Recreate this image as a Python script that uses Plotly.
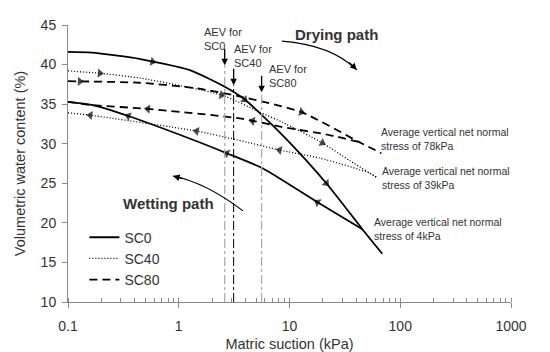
import numpy as np
import plotly.graph_objects as go

# ---------------- data (matric suction kPa, volumetric water content %) ----------------
sc0_dry_x = [0.1, 0.164, 0.45, 1.26, 2.6, 3.77, 5.37, 9.8, 21.5, 45.5, 68.8]
sc0_dry_y = [41.6, 41.5, 40.7, 39.3, 37.2, 35.8, 33.9, 30.3, 25.0, 19.2, 16.1]
sc0_wet_x = [0.1, 0.164, 0.35, 1.34, 2.71, 5.71, 17.9, 45.5]
sc0_wet_y = [35.3, 34.9, 33.5, 30.5, 28.8, 26.9, 22.6, 19.2]

sc40_dry_x = [0.1, 0.194, 0.446, 2.44, 5.37, 8.65, 19.8, 34.7, 62.0]
sc40_dry_y = [39.2, 38.9, 38.3, 36.15, 34.0, 32.7, 30.1, 27.9, 25.7]
sc40_wet_x = [0.1, 0.159, 1.45, 3.33, 8.13, 18.6, 52.6, 62.0]
sc40_wet_y = [33.9, 33.6, 31.6, 30.5, 29.2, 28.2, 26.3, 25.7]

sc80_dry_x = [0.1, 0.446, 1.45, 3.77, 12.8, 42.7, 67.4]
sc80_dry_y = [37.9, 37.7, 37.0, 35.9, 34.0, 30.2, 28.8]
sc80_wet_x = [0.1, 0.159, 0.526, 3.55, 8.65, 22.9, 42.7]
sc80_wet_y = [35.3, 34.9, 34.4, 33.2, 32.1, 31.1, 30.2]

# direction-arrow locations (suction, kPa)
sc0_dry_arrows = [0.58, 3.94, 21.5]
sc0_wet_arrows = [0.35, 2.71, 17.9]
sc40_dry_arrows = [0.194, 2.44, 19.8]
sc40_wet_arrows = [0.159, 1.45, 8.13]
sc80_dry_arrows = [0.128, 12.8]
sc80_wet_arrows = [0.526, 4.64]

# air-entry values
aev_names = ["SC0", "SC40", "SC80"]
aev_x = [2.6, 3.13, 5.6]
aev_top = [39.9, 37.4, 36.5]

x_ticks = [0.1, 1, 10, 100, 1000]
x_tick_text = ["0.1", "1", "10", "100", "1000"]

series_names = ["SC0", "SC40", "SC80"]
stress_labels = ["Average vertical net normal<br>stress of 78kPa",
                 "Average vertical net normal<br>stress of 39kPa",
                 "Average vertical net normal<br>stress of 4kPa"]

# ---------------- styling ----------------
FONT = "Liberation Sans, Arial, sans-serif"
TXT = "#333333"
AX = "#8a8a8a"
styles = {
    "SC0": dict(color="black", width=1.8, dash="solid"),
    "SC40": dict(color="black", width=1.3, dash="1px,2px"),
    "SC80": dict(color="black", width=1.8, dash="8px,5px"),
}

fig = go.Figure()


def interp_curve(xs, ys, xq):
    return float(np.interp(np.log10(xq), np.log10(xs), ys))


def add_curve(name, xd, yd, xw, yw, dry_arrows, wet_arrows):
    st = styles[name]
    fig.add_trace(go.Scatter(x=xd, y=yd, mode="lines", name=name, legendgroup=name,
                             line=dict(color=st["color"], width=st["width"], dash=st["dash"],
                                       shape="spline", smoothing=0.6)))
    fig.add_trace(go.Scatter(x=xw, y=yw, mode="lines", name=name, legendgroup=name,
                             showlegend=False,
                             line=dict(color=st["color"], width=st["width"], dash=st["dash"],
                                       shape="spline", smoothing=0.6)))
    ax_, ay_, sz = [], [], []
    for xa in dry_arrows:
        xp = xa / 1.05
        ax_ += [xp, xa]
        ay_ += [interp_curve(xd, yd, xp), interp_curve(xd, yd, xa)]
        sz += [0, 8]
    for xa in wet_arrows:
        xp = xa * 1.05
        ax_ += [xp, xa]
        ay_ += [interp_curve(xw, yw, xp), interp_curve(xw, yw, xa)]
        sz += [0, 8]
    fig.add_trace(go.Scatter(x=ax_, y=ay_, mode="markers", showlegend=False,
                             hoverinfo="skip",
                             marker=dict(symbol="triangle-up", size=sz, color="black",
                                         angleref="previous", line=dict(width=0))))


add_curve("SC0", sc0_dry_x, sc0_dry_y, sc0_wet_x, sc0_wet_y, sc0_dry_arrows, sc0_wet_arrows)
add_curve("SC40", sc40_dry_x, sc40_dry_y, sc40_wet_x, sc40_wet_y, sc40_dry_arrows, sc40_wet_arrows)
add_curve("SC80", sc80_dry_x, sc80_dry_y, sc80_wet_x, sc80_wet_y, sc80_dry_arrows, sc80_wet_arrows)

# AEV vertical lines
aev_styles = [dict(color="#a8a8a8", width=1.2, dash="dashdot"),
              dict(color="black", width=1.0, dash="dashdot"),
              dict(color="#a8a8a8", width=1.2, dash="dashdot")]
for xv, top, st in zip(aev_x, aev_top, aev_styles):
    fig.add_trace(go.Scatter(x=[xv, xv], y=[10, top], mode="lines", showlegend=False,
                             hoverinfo="skip", line=st))

annotations = []
# AEV arrows and labels
aev_text_pos = [(0.302, 0.949), (0.370, 0.888), (0.449, 0.816)]
for name, xv, top, (tx, ty) in zip(aev_names, aev_x, aev_top, aev_text_pos):
    annotations.append(dict(x=np.log10(xv), y=top, xref="x", yref="y", text="",
                            showarrow=True, arrowhead=2, arrowsize=1, arrowwidth=1.3,
                            arrowcolor="black", ax=0, ay=-18))
    annotations.append(dict(x=tx, y=ty, xref="paper", yref="paper", xanchor="left",
                            yanchor="middle", align="left", showarrow=False,
                            text="AEV for<br>" + name,
                            font=dict(family=FONT, size=11, color=TXT)))

# stress labels
stress_pos = [(0.703, 0.587), (0.705, 0.446), (0.687, 0.262)]
for t, (tx, ty) in zip(stress_labels, stress_pos):
    annotations.append(dict(x=tx, y=ty, xref="paper", yref="paper", xanchor="left",
                            yanchor="middle", align="left", showarrow=False, text=t,
                            font=dict(family=FONT, size=10.5, color=TXT)))

# path labels
annotations.append(dict(x=0.607, y=0.965, xref="paper", yref="paper", showarrow=False,
                        xanchor="center", yanchor="middle",
                        text="<b>Drying path</b>", font=dict(family=FONT, size=15, color=TXT)))
annotations.append(dict(x=0.226, y=0.357, xref="paper", yref="paper", showarrow=False,
                        xanchor="center", yanchor="middle",
                        text="<b>Wetting path</b>", font=dict(family=FONT, size=15, color=TXT)))
# arrow heads of the curved path arrows
annotations.append(dict(x=0.652, y=0.838, xref="paper", yref="paper", text="",
                        showarrow=True, arrowhead=2, arrowsize=1.1, arrowwidth=1.2,
                        arrowcolor="black", ax=-9, ay=-9))
annotations.append(dict(x=0.237, y=0.455, xref="paper", yref="paper", text="",
                        showarrow=True, arrowhead=2, arrowsize=1.1, arrowwidth=1.2,
                        arrowcolor="black", ax=11, ay=3))

shapes = [
    dict(type="path", xref="paper", yref="paper",
         path="M 0.483 0.942 Q 0.593 0.929 0.652 0.838",
         line=dict(color="black", width=1.2)),
    dict(type="path", xref="paper", yref="paper",
         path="M 0.395 0.329 Q 0.3115 0.431 0.237 0.455",
         line=dict(color="black", width=1.2)),
]

fig.update_layout(
    width=550, height=352,
    margin=dict(l=68, r=39, t=25, b=50, autoexpand=False),
    paper_bgcolor="white", plot_bgcolor="white",
    font=dict(family=FONT, size=14, color=TXT),
    showlegend=True,
    legend=dict(x=0.037, y=0.29, xanchor="left", yanchor="top",
                bgcolor="rgba(0,0,0,0)", font=dict(family=FONT, size=14, color=TXT),
                tracegroupgap=0, itemwidth=30),
    annotations=annotations,
    shapes=shapes,
)
fig.update_xaxes(type="log", range=[-1, 3], tickvals=x_ticks, ticktext=x_tick_text,
                 automargin=False,
                 showline=True, linecolor=AX, linewidth=1, ticks="outside", ticklen=5,
                 tickcolor=AX, showgrid=False, zeroline=False, ticklabelstandoff=6,
                 tickfont=dict(family=FONT, size=14, color=TXT),
                 minor=dict(ticks="inside", ticklen=4, tickcolor=AX, dtick="D1", showgrid=False),
                 title=dict(text="Matric suction (kPa)", standoff=9,
                            font=dict(family=FONT, size=14.5, color=TXT)))
fig.update_yaxes(range=[10, 45], dtick=5, showline=True, linecolor=AX, linewidth=1,
                 automargin=False,
                 ticks="outside", ticklen=5, tickcolor=AX, showgrid=False, zeroline=False,
                 ticklabelstandoff=3,
                 tickfont=dict(family=FONT, size=14, color=TXT),
                 title=dict(text="Volumetric water content (%)", standoff=11,
                            font=dict(family=FONT, size=14.5, color=TXT)))

fig.write_html("out.html")
